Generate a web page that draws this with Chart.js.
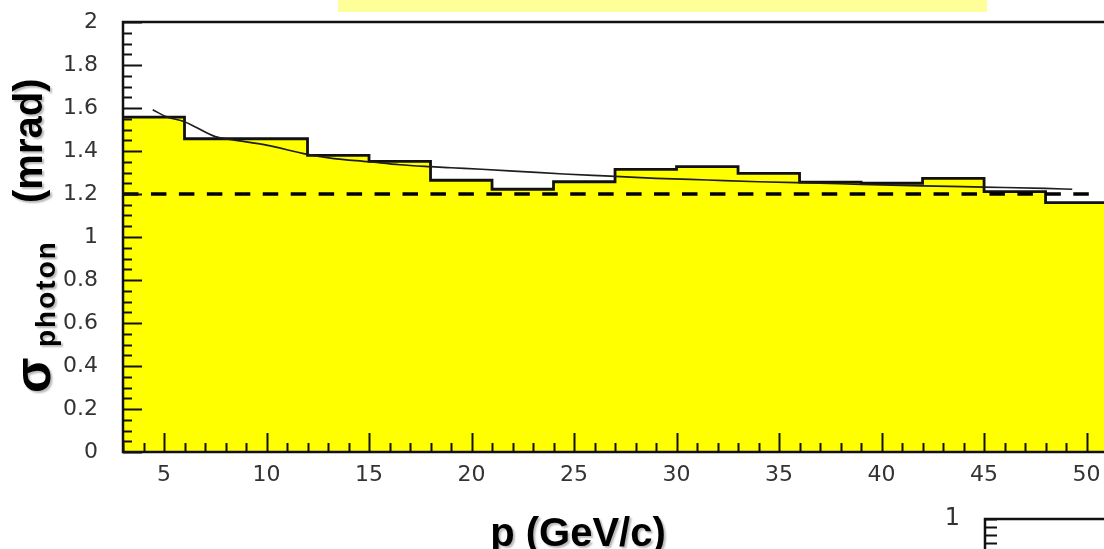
<!DOCTYPE html>
<html>
<head>
<meta charset="utf-8">
<script src="https://cdn.jsdelivr.net/npm/chart.js@4.4.1/dist/chart.umd.min.js"></script>
<style>
  html, body { margin: 0; padding: 0; background: #fff; overflow: hidden; width: 1104px; height: 549px; }
  #wrap { position: relative; width: 1104px; height: 549px; overflow: hidden; background: #fff; }
  #main { position: absolute; left: 0; top: 0; }
  #titlebar { position: absolute; left: 338px; top: 0; width: 649px; height: 12px; background: #ffff99; }
  #inset { position: absolute; left: 900px; top: 490px; }
</style>
</head>
<body>
<div id="wrap">
  <canvas id="main" width="1104" height="549"></canvas>
  <div id="titlebar"></div>
  <canvas id="inset" width="204" height="229"></canvas>
</div>
<script>
// Histogram: single-photon Cherenkov angle resolution per momentum bin (3 GeV/c wide)
const binEdges = [3, 6, 9, 12, 15, 18, 21, 24, 27, 30, 33, 36, 39, 42, 45, 48, 51];
const sigmaPerBin = [1.558, 1.457, 1.457, 1.380, 1.352, 1.264, 1.222, 1.257,
                     1.315, 1.327, 1.296, 1.255, 1.250, 1.273, 1.211, 1.160];

// Fitted curve through the histogram
const fitMomentum = [4.45, 5.1, 6, 7.5, 8.3, 10, 12, 13.2, 15, 16.5, 18, 19, 20.5, 22.5,
                     24.5, 26.5, 29, 31.5, 34, 37, 39, 42, 45, 48, 49.3];
const fitSigma = [1.592, 1.560, 1.536, 1.467, 1.453, 1.427, 1.384, 1.366, 1.350, 1.336,
                  1.327, 1.322, 1.315, 1.304, 1.293, 1.284, 1.273, 1.265, 1.257, 1.250,
                  1.245, 1.238, 1.232, 1.226, 1.222];

// Reference level (dashed)
const refMomentum = [3, 50.3];
const refSigma = [1.2, 1.2];

// Axes
const xRange = [3, 50.85];
const yRange = [0, 2];
const xMajorTicks = [5, 10, 15, 20, 25, 30, 35, 40, 45, 50];
const yMajorTicks = [0, 0.2, 0.4, 0.6, 0.8, 1, 1.2, 1.4, 1.6, 1.8, 2];
const xMinorStep = 1;
const yMinorStep = 0.05;

// Axis titles
const xTitle = 'p (GeV/c)';
const yTitleSymbol = 'σ';
const yTitleSub = 'photon';
const yTitleUnit = '(mrad)';

// Small neighbouring panel (only its top-left corner is on the page)
const insetRange = [0, 1];
const insetMajorTicks = [1];
const insetMinorStep = 0.04;

const tickFont = { family: "'DejaVu Sans', 'Liberation Sans', sans-serif", size: 22, weight: 'normal' };
const isIn = (list, v) => list.some(m => Math.abs(m - v) < 1e-6);

const histData = binEdges.map((e, i) => ({ x: e, y: sigmaPerBin[Math.min(i, sigmaPerBin.length - 1)] }));
const fitData = fitMomentum.map((p, i) => ({ x: p, y: fitSigma[i] }));
const refData = refMomentum.map((p, i) => ({ x: p, y: refSigma[i] }));

// Inward ticks and open frame (left, top, bottom), ROOT style
const frameAndTicks = {
  id: 'frameAndTicks',
  afterDatasetsDraw(chart, args, opts) {
    const { ctx, chartArea: a, scales } = chart;
    const x = scales.x, y = scales.y;
    ctx.save();
    ctx.strokeStyle = '#111';
    ctx.lineWidth = 2;
    ctx.beginPath();
    if (opts.xTicks) {
      x.ticks.forEach(t => {
        const px = Math.round(x.getPixelForValue(t.value)) + 0.5;
        const len = isIn(opts.xMajor, t.value) ? opts.majorLen : opts.minorLen;
        ctx.moveTo(px, a.bottom);
        ctx.lineTo(px, a.bottom - len);
      });
    }
    y.ticks.forEach(t => {
      const py = Math.round(y.getPixelForValue(t.value)) + 0.5;
      const len = isIn(opts.yMajor, t.value) ? opts.majorLen : opts.minorLen;
      ctx.moveTo(a.left, py);
      ctx.lineTo(a.left + len, py);
    });
    ctx.stroke();
    ctx.lineWidth = 2.5;
    ctx.beginPath();
    ctx.moveTo(a.right + 2, a.top);
    ctx.lineTo(a.left, a.top);
    ctx.lineTo(a.left, opts.bottomLine ? a.bottom : chart.height + 2);
    if (opts.bottomLine) ctx.lineTo(a.right + 2, a.bottom);
    ctx.stroke();
    ctx.restore();
  }
};

const axisTitles = {
  id: 'axisTitles',
  afterDraw(chart) {
    const { ctx, chartArea: a } = chart;
    ctx.save();
    ctx.fillStyle = '#000';
    ctx.shadowColor = 'rgba(0,0,0,0.28)';
    ctx.shadowOffsetX = 2;
    ctx.shadowOffsetY = 2;
    ctx.shadowBlur = 2;
    ctx.textBaseline = 'alphabetic';
    ctx.font = "bold 40px 'Liberation Sans', Arial, sans-serif";
    ctx.textAlign = 'center';
    ctx.fillText(xTitle, a.left + 455, a.bottom + 94);

    ctx.rotate(-Math.PI / 2);
    ctx.textAlign = 'left';
    const base = a.bottom;
    ctx.font = "bold 52px 'Liberation Sans', Arial, sans-serif";
    ctx.fillText(yTitleSymbol, -(base - 59), 50);
    ctx.font = "bold 28px 'Liberation Sans', Arial, sans-serif";
    ctx.letterSpacing = '2px';
    ctx.fillText(yTitleSub, -(base - 105), 55);
    ctx.letterSpacing = '0px';
    ctx.font = "bold 40px 'Liberation Sans', Arial, sans-serif";
    ctx.fillText(yTitleUnit, -(base - 249), 42);
    ctx.restore();
  }
};

new Chart(document.getElementById('main'), {
  type: 'line',
  data: {
    datasets: [
      {
        label: 'reference',
        data: refData,
        borderColor: '#000',
        borderWidth: 3.5,
        borderDash: [15.5, 12.45],
        pointRadius: 0,
        fill: false,
        order: 0
      },
      {
        label: 'fit',
        data: fitData,
        borderColor: '#1e1e1e',
        borderWidth: 1.7,
        pointRadius: 0,
        fill: false,
        cubicInterpolationMode: 'monotone',
        order: 1
      },
      {
        label: 'sigma',
        data: histData,
        stepped: 'before',
        borderColor: '#111',
        borderWidth: 2.8,
        backgroundColor: '#ffff00',
        pointRadius: 0,
        fill: 'origin',
        order: 2
      }
    ]
  },
  options: {
    responsive: false,
    animation: false,
    devicePixelRatio: 1,
    layout: { padding: { top: 22, left: 0, right: 0, bottom: 0 } },
    plugins: {
      legend: { display: false },
      tooltip: { enabled: false },
      frameAndTicks: { xTicks: true, bottomLine: true, xMajor: xMajorTicks, yMajor: yMajorTicks, majorLen: 19, minorLen: 9 }
    },
    scales: {
      x: {
        type: 'linear',
        min: xRange[0],
        max: xRange[1],
        grid: { display: false, drawTicks: false },
        border: { display: false },
        ticks: {
          stepSize: xMinorStep,
          autoSkip: false,
          includeBounds: false,
          maxRotation: 0,
          padding: 10,
          color: '#333',
          font: tickFont,
          callback: v => isIn(xMajorTicks, v) ? String(v) : ''
        },
        afterFit: s => { s.height = 97; s.paddingLeft = 0; s.paddingRight = 0; }
      },
      y: {
        type: 'linear',
        min: yRange[0],
        max: yRange[1],
        grid: { display: false, drawTicks: false },
        border: { display: false },
        ticks: {
          stepSize: yMinorStep,
          autoSkip: false,
          includeBounds: false,
          padding: 25,
          color: '#333',
          font: tickFont,
          callback: v => isIn(yMajorTicks, v) ? String(Number(v.toFixed(1))) : ''
        },
        afterFit: s => { s.width = 123; s.paddingTop = 0; s.paddingBottom = 0; }
      }
    }
  },
  plugins: [frameAndTicks, axisTitles]
});

// Neighbouring panel corner
new Chart(document.getElementById('inset'), {
  type: 'scatter',
  data: { datasets: [] },
  options: {
    responsive: false,
    animation: false,
    devicePixelRatio: 1,
    layout: { padding: { top: 29, left: 0, right: 0, bottom: 0 } },
    plugins: {
      legend: { display: false },
      tooltip: { enabled: false },
      frameAndTicks: { xTicks: false, bottomLine: false, xMajor: [], yMajor: [], majorLen: 12, minorLen: 12 }
    },
    scales: {
      x: { type: 'linear', display: false, min: 0, max: 1 },
      y: {
        type: 'linear',
        min: insetRange[0],
        max: insetRange[1],
        grid: { display: false, drawTicks: false },
        border: { display: false },
        ticks: {
          stepSize: insetMinorStep,
          autoSkip: false,
          padding: 25,
          color: '#333',
          font: { family: tickFont.family, size: 24, weight: 'normal' },
          callback: v => isIn(insetMajorTicks, v) ? String(v) : ''
        },
        afterFit: s => { s.width = 85; s.paddingTop = 0; s.paddingBottom = 0; }
      }
    }
  },
  plugins: [frameAndTicks]
});
</script>
</body>
</html>
